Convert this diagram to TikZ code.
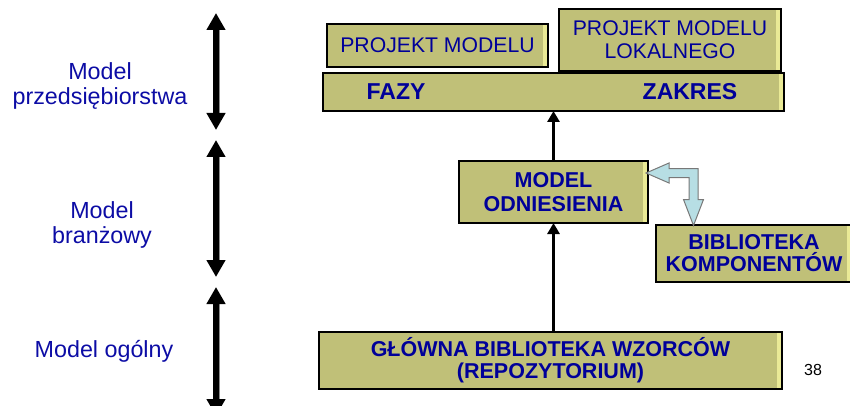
\documentclass[tikz,border=0pt]{standalone}
\usepackage{fontspec}
\setmainfont{Liberation Sans}
\usetikzlibrary{arrows.meta,calc}
\definecolor{boxfill}{RGB}{192,192,120}
\definecolor{boxbevel}{RGB}{234,234,150}
\definecolor{navy}{RGB}{0,0,153}
\definecolor{labelblue}{RGB}{12,12,165}
\definecolor{flowfill}{RGB}{183,222,228}
\definecolor{flowedge}{RGB}{120,120,120}
\tikzset{
  olivebox/.style={draw=black, line width=1.6pt, fill=boxfill, inner sep=0pt,
    outer sep=0pt, align=center, text=navy,
    path picture={\fill[boxbevel]
      ([xshift=-5pt,yshift=-1pt]path picture bounding box.north east)
      rectangle ([yshift=1pt]path picture bounding box.south east);}},
  boldtext/.style={font=\fontsize{21.5}{24.5}\selectfont\bfseries},
  boldtight/.style={font=\fontsize{21.5}{22}\selectfont\bfseries},
  bartext/.style={font=\fontsize{23}{25}\selectfont\bfseries, text=navy, inner sep=0pt},
  plaintext/.style={font=\fontsize{21.2}{23}\selectfont},
  levellabel/.style={align=center, text=labelblue, inner sep=0pt,
    font=\fontsize{23.3}{25}\selectfont},
  levelarrow/.style={line width=6pt,
    {Triangle[width=18pt,length=17pt]}-{Triangle[width=18pt,length=17pt]}},
  levelshade/.style={line width=1.6pt, draw=black!45},
  flowarrow/.style={line width=3.5pt, -{Triangle[width=12pt,length=11pt]}},
  exchange/.style={draw=flowedge, line width=1pt, fill=flowfill, line join=miter},
}
\begin{document}
\begin{tikzpicture}[x=1pt,y=-1pt]
\useasboundingbox (0,0) rectangle (850,406);
\clip (0,0) rectangle (850,406);

% level labels
\node[levellabel] (lvtop) at (100,86) {Model\\przedsiębiorstwa};
\node[levellabel] (lvmid) at (102,225) {Model\\branżowy};
\node[levellabel] (lvbot) at (104,351) {Model ogólny};

% level extents (double arrows)
\coordinate (l1t) at (216,13);  \coordinate (l1b) at (216,130);
\coordinate (l2t) at (216,140); \coordinate (l2b) at (216,277);
\coordinate (l3t) at (216,287); \coordinate (l3b) at (216,416);
\foreach \a/\b in {l1t/l1b,l2t/l2b,l3t/l3b}{
  \draw[levelshade] ($(\a)+(3.6,17)$) -- ($(\b)+(3.6,-17)$);
  \draw[levelarrow] (\a) -- (\b);
}

% boxes
\node[olivebox, plaintext, minimum width=221pt, minimum height=43pt]
  (pm) at (437.5,45.5) {PROJEKT MODELU};
\node[olivebox, plaintext, minimum width=222pt, minimum height=62pt]
  (pml) at (670,40) {PROJEKT MODELU\\LOKALNEGO};
\node[olivebox, minimum width=461pt, minimum height=38pt]
  (fz) at (553.5,92) {};
\node[bartext] (fazy) at (396,92) {FAZY};
\node[bartext] (zakres) at (690,92) {ZAKRES};
\node[olivebox, boldtext, minimum width=189pt, minimum height=62pt]
  (mo) at (553.5,192) {MODEL\\ODNIESIENIA};
\node[olivebox, boldtight, minimum width=196pt, minimum height=57pt]
  (bk) at (754,253.5) {BIBLIOTEKA\\KOMPONENTÓW};
\node[olivebox, boldtight, minimum width=463pt, minimum height=57pt]
  (gb) at (550.5,360.5) {GŁÓWNA BIBLIOTEKA WZORCÓW\\(REPOZYTORIUM)};

% page number
\node[font=\fontsize{16}{18}\selectfont, inner sep=0pt] (pg) at (813,370) {38};

% vertical flow
\draw[flowarrow] (gb.north -| mo.south) -- (mo.south);
\draw[flowarrow] (mo.north) -- (mo.north |- fz.south);

% exchange between reference model and component library (bent block arrow)
\coordinate (ex1) at ($(mo.east)+(-2,-19)$);
\coordinate (ex2) at ($(bk.north west)+(37.5,0.5)$);
\draw[exchange]
  (ex1) -- ($(ex1)+(23,-10)$) -- ($(ex1)+(23,-4.5)$)
  -- ({$(ex2)+(4.5,0)$} |- {$(ex1)+(0,-4.5)$})
  -- ($(ex2)+(4.5,-26)$) -- ($(ex2)+(10,-26)$) -- (ex2)
  -- ($(ex2)+(-10,-26)$) -- ($(ex2)+(-4.5,-26)$)
  -- ({$(ex2)+(-4.5,0)$} |- {$(ex1)+(0,4.5)$})
  -- ($(ex1)+(23,4.5)$) -- ($(ex1)+(23,10)$) -- cycle;
\end{tikzpicture}
\end{document}
